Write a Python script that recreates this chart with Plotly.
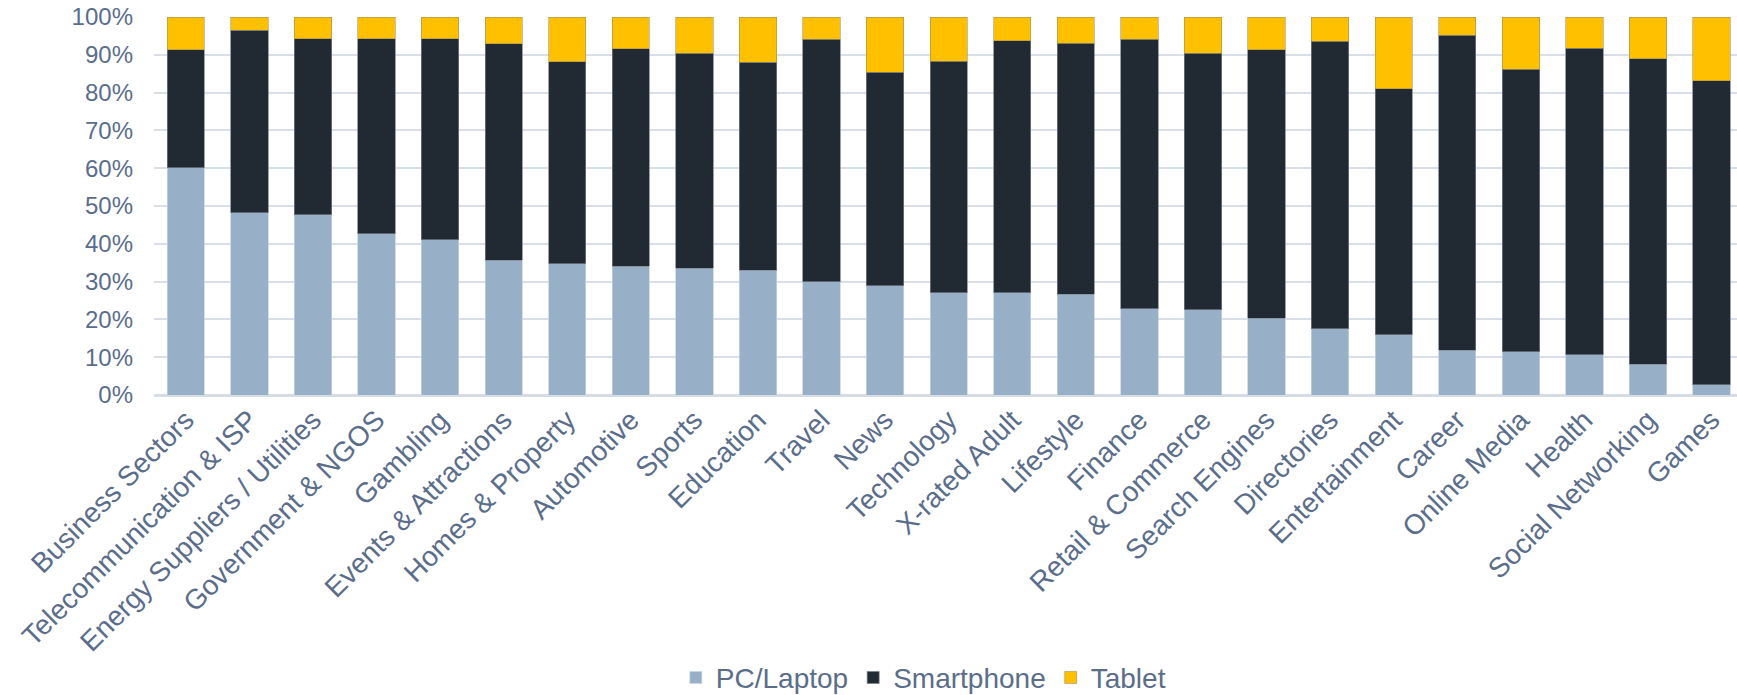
import plotly.graph_objects as go

categories = [
    "Business Sectors", "Telecommunication & ISP", "Energy Suppliers / Utilities",
    "Government & NGOS", "Gambling", "Events & Attractions", "Homes & Property",
    "Automotive", "Sports", "Education", "Travel", "News", "Technology",
    "X-rated Adult", "Lifestyle", "Finance", "Retail & Commerce", "Search Engines",
    "Directories", "Entertainment", "Career", "Online Media", "Health",
    "Social Networking", "Games",
]

pc_laptop = [60.1, 48.2, 47.7, 42.7, 41.1, 35.6, 34.7, 34.1, 33.5, 33.0, 30.0, 28.9, 27.1,
             27.1, 26.7, 22.8, 22.6, 20.3, 17.5, 16.0, 11.9, 11.4, 10.7, 8.1, 2.7]
smartphone = [31.3, 48.3, 46.6, 51.5, 53.2, 57.3, 53.5, 57.5, 56.9, 55.0, 64.1, 56.5, 61.2,
              66.6, 66.4, 71.3, 67.8, 71.1, 76.1, 65.0, 83.3, 74.8, 81.0, 80.9, 80.5]
tablet = [8.6, 3.5, 5.7, 5.8, 5.7, 7.1, 11.8, 8.4, 9.6, 12.0, 5.9, 14.6, 11.7,
          6.3, 6.9, 5.9, 9.6, 8.6, 6.4, 19.0, 4.8, 13.8, 8.3, 11.0, 16.8]

y_ticks = [0, 10, 20, 30, 40, 50, 60, 70, 80, 90, 100]
y_tick_labels = [f"{v}%" for v in y_ticks]

TEXT = "#5A6D8B"
FONT = "Liberation Sans, Arial, sans-serif"

fig = go.Figure()
series = [
    ("PC/Laptop", pc_laptop, "#97B0C8", "rgba(200,212,226,0.9)"),
    ("Smartphone", smartphone, "#212932", "rgba(120,128,138,0.9)"),
    ("Tablet", tablet, "#FFC000", "rgba(150,140,110,0.7)"),
]
for name, vals, color, lc in series:
    fig.add_trace(go.Bar(
        x=categories, y=vals, name=name,
        marker=dict(color=color, line=dict(color=lc, width=0.8)),
    ))

fig.update_layout(
    width=1737, height=695,
    barmode="stack", bargap=0.413,
    plot_bgcolor="white", paper_bgcolor="white",
    font=dict(family=FONT, color=TEXT, size=24),
    margin=dict(l=154, r=0, t=17, b=300, autoexpand=False),
    showlegend=True,
    legend=dict(
        orientation="h", x=0.486, xanchor="center", y=-0.748, yanchor="middle",
        font=dict(size=28, color=TEXT), traceorder="normal",
        itemwidth=30, bgcolor="rgba(0,0,0,0)",
    ),
    xaxis=dict(
        range=[-0.5, 24.4], tickangle=-45, showgrid=False, showline=False,
        tickfont=dict(size=28, color=TEXT), ticks="", ticklabelstandoff=2,
    ),
    yaxis=dict(
        range=[0, 100], tickvals=y_ticks, ticktext=y_tick_labels,
        showgrid=True, gridcolor="#D9DFE8", gridwidth=2,
        zeroline=True, zerolinecolor="#D5DCE6", zerolinewidth=2.5,
        showline=False, ticks="", ticklabelstandoff=20,
        ticklabeloverflow="allow",
        tickfont=dict(size=24, color=TEXT),
    ),
)

# remove the browser's default 8px page margin so the figure fills the window exactly
fig.write_html(
    "out.html",
    config={"displayModeBar": False},
    post_script="document.body.style.margin='0';document.documentElement.style.margin='0';",
)
